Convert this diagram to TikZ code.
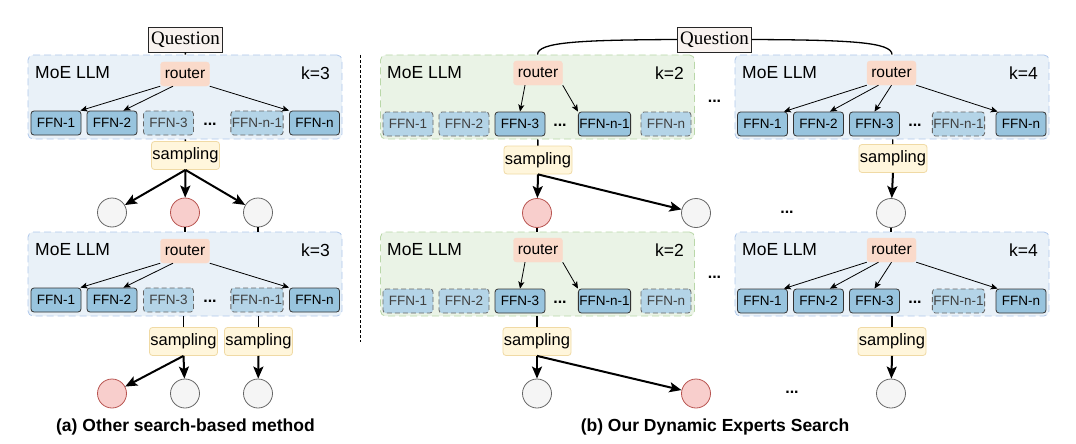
\documentclass[tikz,border=0pt]{standalone}
\usepackage{fontspec}
\setmainfont{Liberation Sans}
\newfontfamily\serifQ{Liberation Serif}
\usetikzlibrary{arrows.meta,calc}

\definecolor{moeBlueFill}{RGB}{233,241,248}
\definecolor{moeBlueLine}{RGB}{175,200,235}
\definecolor{moeGreenFill}{RGB}{234,243,230}
\definecolor{moeGreenLine}{RGB}{185,215,168}
\definecolor{ffnFill}{RGB}{152,196,222}
\definecolor{ffnFillOff}{RGB}{180,212,231}
\definecolor{routerFill}{RGB}{250,218,202}
\definecolor{sampFill}{RGB}{255,246,220}
\definecolor{sampLine}{RGB}{240,218,165}
\definecolor{qFill}{RGB}{248,242,239}
\definecolor{tokRedFill}{RGB}{248,206,204}
\definecolor{tokRedLine}{RGB}{184,84,80}
\definecolor{tokGrayFill}{RGB}{245,245,245}
\definecolor{tokGrayLine}{RGB}{102,102,102}

\tikzset{
    moeBlue/.style={
        ,   draw=moeBlueLine
        ,   fill=moeBlueFill
        ,   dash pattern=on 7pt off 4pt
        ,   line width=0.8pt
        ,   rounded corners=5pt
        ,   minimum width=314pt
        ,   minimum height=84pt
        ,   inner sep=0pt
    },
    moeGreen/.style={
        ,   moeBlue
        ,   draw=moeGreenLine
        ,   fill=moeGreenFill
    },
    moeText/.style={
        ,   inner sep=0pt
        ,   font={\fontsize{17.5}{20}\selectfont}
    },
    ffnOn/.style={
        ,   draw=black!80
        ,   fill=ffnFill
        ,   line width=0.8pt
        ,   rounded corners=3pt
        ,   minimum width=50pt
        ,   minimum height=24pt
        ,   inner sep=1pt
        ,   font={\fontsize{13.5}{15}\selectfont}
    },
    ffnOff/.style={
        ,   ffnOn
        ,   draw=black!60
        ,   fill=ffnFillOff
        ,   dash pattern=on 5pt off 3pt
        ,   text=black!75
    },
    routerBox/.style={
        ,   draw=routerFill
        ,   fill=routerFill
        ,   rounded corners=3pt
        ,   minimum width=49pt
        ,   minimum height=24pt
        ,   inner sep=1pt
        ,   font={\fontsize{15.5}{18}\selectfont}
    },
    sampBox/.style={
        ,   draw=sampLine
        ,   fill=sampFill
        ,   line width=0.8pt
        ,   rounded corners=3pt
        ,   minimum width=67pt
        ,   minimum height=28pt
        ,   inner sep=1pt
        ,   font={\fontsize{16.5}{19}\selectfont}
    },
    qBox/.style={
        ,   draw=black!85
        ,   fill=qFill
        ,   line width=0.9pt
        ,   minimum width=74pt
        ,   minimum height=25pt
        ,   inner sep=1pt
        ,   font={\serifQ\fontsize{19}{21}\selectfont}
    },
    tokGray/.style={
        ,   circle
        ,   draw=tokGrayLine
        ,   fill=tokGrayFill
        ,   line width=0.8pt
        ,   minimum size=29pt
        ,   inner sep=0pt
    },
    tokRed/.style={
        ,   tokGray
        ,   draw=tokRedLine
        ,   fill=tokRedFill
    },
    dotsText/.style={
        ,   inner sep=0pt
        ,   font={\bfseries\fontsize{16}{18}\selectfont}
    },
    capText/.style={
        ,   inner sep=0pt
        ,   font={\bfseries\fontsize{17.5}{20}\selectfont}
    },
    selArrow/.style={-{Stealth[length=7pt,width=6pt,inset=1.5pt]}, line width=0.8pt},
    drawArrow/.style={-{Stealth[length=12pt,width=10pt,inset=2.5pt]}, line width=2pt},
    qLink/.style={line width=1.3pt},
    sepLine/.style={line width=0.8pt, dash pattern=on 3pt off 2pt}
}

\begin{document}
\begin{tikzpicture}[x=1pt, y=-1pt]
\useasboundingbox (0,0) rectangle (1076,444);

% (a) other search-based method
\node[qBox] (qa) at (185.5,39.5) {Question};
\foreach \b/\yc in {a1/97, a2/274}{
  \node[moeBlue] (\b) at (185,\yc) {};
  \node[moeText, anchor=west] (\b-m) at (35,\yc-24) {MoE LLM};
  \node[moeText, anchor=east] (\b-k) at (330,\yc-24) {k=3};
  \node[routerBox] (\b-r) at (185,\yc-23) {router};
  \foreach \i/\x/\st/\lab in {1/56/ffnOn/1, 2/112/ffnOn/2, 3/168.5/ffnOff/3, m/257/ffnOff/n-1, n/314.5/ffnOn/n}{
    \node[\st] (\b-f\i) at (\x,\yc+26) {FFN-\lab};
  }
  \node[dotsText] (\b-d) at (210,\yc+27) {...};
  \draw[selArrow] (\b-r.south west) -- ([xshift=-1pt]\b-f1.north east);
  \draw[selArrow] ([xshift=-12pt]\b-r.south) -- ([xshift=-14pt]\b-f2.north east);
  \draw[selArrow] (\b-r.south east) -- (\b-fn.north west);
}
\draw[qLink] (qa) -- (a1);

\node[sampBox] (a1s) at (185.5,155.5) {sampling};
\draw[qLink] (a1) -- (a1s);
\node[tokGray] (a1t1) at (112,212.5) {};
\node[tokRed]  (a1t2) at (185,212.5) {};
\node[tokGray] (a1t3) at (258,212.5) {};
\foreach \t in {a1t1,a1t2,a1t3}
  \draw[drawArrow] (a1s.south) -- (\t);
\draw[qLink] (a1t2) -- (a1t2 |- a2.north);
\draw[qLink] (a1t3) -- (a1t3 |- a2.north);

\node[sampBox] (a2s1) at (183.5,341.5) {sampling};
\node[sampBox] (a2s2) at (258.5,341.5) {sampling};
\draw[qLink] (a2s1 |- a2.south) -- (a2s1);
\draw[qLink] (a2s2 |- a2.south) -- (a2s2);
\node[tokRed]  (a2t1) at (112,393.5) {};
\node[tokGray] (a2t2) at (185,393.5) {};
\node[tokGray] (a2t3) at (258,393.5) {};
\draw[drawArrow] (a2s1.south) -- (a2t1);
\draw[drawArrow] (a2s1.south) -- (a2t2);
\draw[drawArrow] (a2s2.south) -- (a2t3);

\node[capText] (capa) at (185.5,427) {(a) Other search-based method};

\draw[sepLine] (360,55) -- (360,342);

% (b) dynamic experts search
\node[qBox] (qb) at (714.5,39.5) {Question};
\foreach \b/\yc in {b1/97, b2/274}{
  \node[moeGreen] (\b) at (537.5,\yc) {};
  \node[moeText, anchor=west] (\b-m) at (387,\yc-24) {MoE LLM};
  \node[moeText, anchor=east] (\b-k) at (684,\yc-24) {k=2};
  \node[routerBox] (\b-r) at (538,\yc-24) {router};
  \foreach \i/\x/\st/\lab in {1/408/ffnOff/1, 2/464/ffnOff/2, 3/520/ffnOn/3, m/604.5/ffnOn/n-1, n/666/ffnOff/n}{
    \node[\st] (\b-f\i) at (\x,\yc+27) {FFN-\lab};
  }
  \node[dotsText] (\b-d) at (560,\yc+28) {...};
  \draw[selArrow] ([xshift=-13pt]\b-r.south) -- (\b-f3.north);
  \draw[selArrow] (\b-r.south east) -- (\b-fm.north west);
}
\foreach \b/\yc in {c1/97, c2/274}{
  \node[moeBlue] (\b) at (892,\yc) {};
  \node[moeText, anchor=west] (\b-m) at (742,\yc-24) {MoE LLM};
  \node[moeText, anchor=east] (\b-k) at (1038,\yc-24) {k=4};
  \node[routerBox] (\b-r) at (891.5,\yc-24) {router};
  \foreach \i/\x/\st/\lab in {1/762.5/ffnOn/1, 2/818.5/ffnOn/2, 3/874.5/ffnOn/3, m/958.5/ffnOff/n-1, n/1021/ffnOn/n}{
    \node[\st] (\b-f\i) at (\x,\yc+27) {FFN-\lab};
  }
  \node[dotsText] (\b-d) at (915,\yc+28) {...};
  \draw[selArrow] (\b-r.south west) -- ([xshift=-4pt]\b-f1.north east);
  \draw[selArrow] ([xshift=-13pt]\b-r.south) -- ([xshift=-14pt]\b-f2.north east);
  \draw[selArrow] (\b-r.south) -- (\b-f3.north);
  \draw[selArrow] (\b-r.south east) -- ([xshift=2pt]\b-fn.north west);
}
\draw[qLink] (qb.west) .. controls (580,40) and (537.5,42) .. (b1.north);
\draw[qLink] (qb.east) .. controls (849,40) and (892,42) .. (c1.north);

\node[sampBox] (b1s) at (538,160) {sampling};
\node[sampBox] (c1s) at (893,158.5) {sampling};
\draw[qLink] (b1) -- (b1s);
\draw[qLink] (c1) -- (c1s);
\node[tokRed]  (b1t1) at (537,213) {};
\node[tokGray] (b1t2) at (696,213) {};
\node[tokGray] (c1t)  at (891,213) {};
\draw[drawArrow] (b1s.south) -- (b1t1);
\draw[drawArrow] (b1s.south) -- (b1t2);
\draw[drawArrow] (c1s.south) -- (c1t);
\draw[qLink] (b1t1) -- (b1t1 |- b2.north);
\draw[qLink] (c1t) -- (c1t |- c2.north);

\node[sampBox] (b2s) at (537,341.5) {sampling};
\node[sampBox] (c2s) at (892,341.5) {sampling};
\draw[qLink] (b2s |- b2.south) -- (b2s);
\draw[qLink] (c2s |- c2.south) -- (c2s);
\node[tokGray] (b2t1) at (537,393.5) {};
\node[tokRed]  (b2t2) at (696,393.5) {};
\node[tokGray] (c2t)  at (891,393.5) {};
\draw[drawArrow] (b2s.south) -- (b2t1);
\draw[drawArrow] (b2s.south) -- (b2t2);
\draw[drawArrow] (c2s.south) -- (c2t);

\node[dotsText] (bd1) at (714.5,101) {...};
\node[dotsText] (bd2) at (714.5,277) {...};
\node[dotsText] (bd3) at (787,212) {...};
\node[dotsText] (bd4) at (792,392) {...};

\node[capText] (capb) at (715,427) {(b) Our Dynamic Experts Search};
\end{tikzpicture}
\end{document}
